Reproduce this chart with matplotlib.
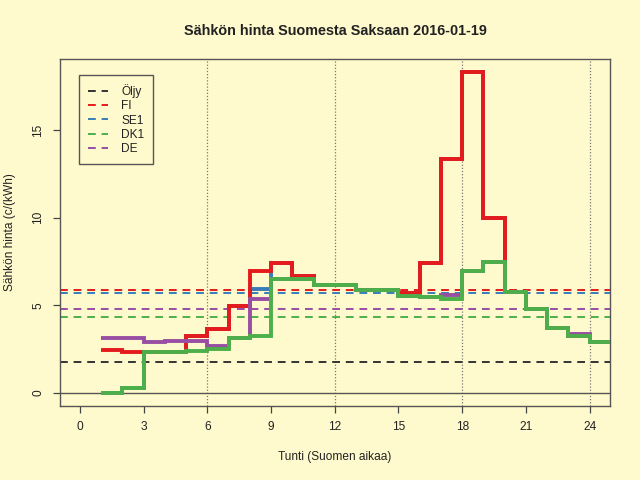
import matplotlib
matplotlib.use("Agg")
import matplotlib.pyplot as plt
from matplotlib.lines import Line2D

plt.rcParams['font.family'] = ['Liberation Sans', 'DejaVu Sans']

# data
hours = list(range(1, 26))  # step edges 1..25
fi = [2.45, 2.35, 2.32, 2.37, 3.25, 3.65, 4.97, 6.95, 7.39, 6.69, 6.15, 6.15,
      5.90, 5.87, 5.72, 7.39, 13.33, 18.31, 9.99, 5.74, 4.82, 3.74, 3.27, 2.89]
se1 = [0.00, 0.30, 2.32, 2.37, 3.25, 3.65, 4.97, 5.96, 7.39, 6.69, 6.15, 6.15,
       5.90, 5.87, 5.72, 7.39, 13.33, 18.31, 9.99, 5.74, 4.82, 3.74, 3.27, 2.89]
dk1 = [0.00, 0.30, 2.32, 2.37, 2.43, 2.53, 3.17, 3.23, 6.48, 6.53, 6.15, 6.15,
       5.90, 5.87, 5.53, 5.49, 5.39, 6.97, 7.48, 5.74, 4.82, 3.74, 3.27, 2.89]
de = [3.17, 3.17, 2.89, 2.98, 2.98, 2.68, 3.17, 5.36, 6.48, 6.53, 6.15, 6.15,
      5.90, 5.87, 5.53, 5.49, 5.58, 6.97, 7.48, 5.74, 4.82, 3.74, 3.36, 2.94]
oil = 1.77
means = {'FI': 5.89, 'SE1': 5.68, 'DK1': 4.35, 'DE': 4.79}
xticks = [0, 3, 6, 9, 12, 15, 18, 21, 24]
yticks = [0, 5, 10, 15]
vlines = [6, 12, 18, 24]

colors = {'Öljy': '#333333', 'FI': '#E41A1C', 'SE1': '#377EB8',
          'DK1': '#4DAF4A', 'DE': '#984EA3'}
bg = '#FFFACD'
txt = '#222222'

fig = plt.figure(figsize=(6.4, 4.8), dpi=100, facecolor=bg)
ax = fig.add_axes([59.5/640, 1-406/480, (610-59.5)/640, (406-59)/480])
ax.set_facecolor(bg)
ax.set_xlim(-0.96, 24.96)
ax.set_ylim(-0.73, 19.04)

for v in vlines:
    ax.axvline(v, color='#777777', lw=0.9, ls=(0, (1, 1.5)), zorder=1)
ax.axhline(0, color='#555555', lw=1.0, zorder=1)

dash = (0, (4, 3))
ax.axhline(oil, color=colors['Öljy'], lw=1.4, ls=dash, zorder=2)
for k in ['FI', 'SE1', 'DE', 'DK1']:
    ax.axhline(means[k], color=colors[k], lw=1.4, ls=dash, zorder=2)

for name, vals in [('SE1', se1), ('FI', fi), ('DE', de), ('DK1', dk1)]:
    ax.step(hours, vals + [vals[-1]], where='post', color=colors[name], lw=2.8,
            solid_joinstyle='miter', solid_capstyle='butt', zorder=3)

for s in ax.spines.values():
    s.set_color('#555555')
    s.set_linewidth(1.0)

ax.set_xticks(xticks)
ax.set_xticklabels([str(t) for t in xticks])
ax.set_yticks(yticks)
ax.set_yticklabels([str(t) for t in yticks], rotation=90, va='center')
ax.tick_params(axis='both', direction='out', length=5, width=0.9, color='#444444',
               labelsize=8.6, labelcolor=txt, pad=6)

handles = [Line2D([], [], color=colors[k], lw=1.4, ls=dash) for k in colors]
leg = ax.legend(handles, list(colors.keys()), loc='upper left',
                bbox_to_anchor=(79/640, 1-75/480), bbox_transform=fig.transFigure,
                borderaxespad=0, fancybox=False, frameon=True, edgecolor='#555555',
                facecolor=bg, framealpha=1, fontsize=8.6, handlelength=1.7,
                handletextpad=1.1, labelspacing=0.2, borderpad=0.75)
leg.get_frame().set_linewidth(1.0)
for t in leg.get_texts():
    t.set_color(txt)

fig.text(335/640, 1-31/480, 'Sähkön hinta Suomesta Saksaan 2016-01-19',
         ha='center', va='center', fontsize=10.4, fontweight='bold', color=txt)
fig.text(335/640, 1-457/480, 'Tunti (Suomen aikaa)', ha='center', va='center',
         fontsize=8.6, color=txt)
fig.text(10/640, 1-232/480, 'Sähkön hinta (c/(kWh)', ha='center', va='center',
         rotation=90, fontsize=8.6, color=txt)

fig.savefig('out.png', dpi=100, facecolor=bg)
